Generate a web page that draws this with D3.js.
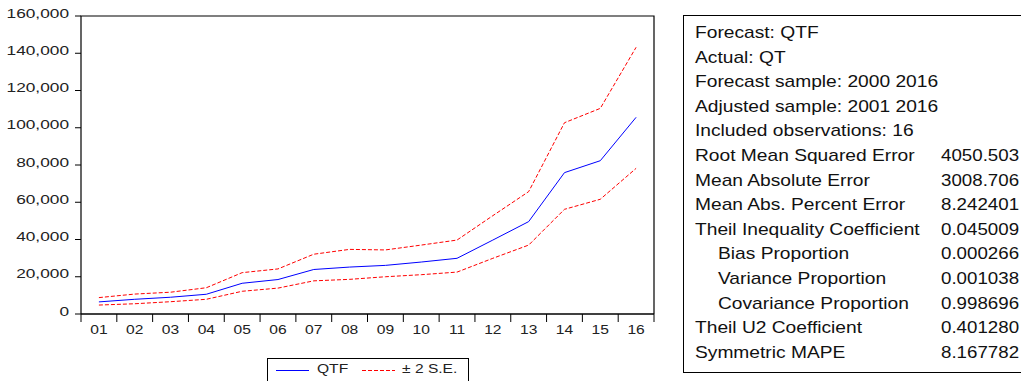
<!DOCTYPE html>
<html>
<head>
<meta charset="utf-8">
<script src="https://cdn.jsdelivr.net/npm/d3@7"></script>
<style>
    body { margin: 0; background: #fff; }
    svg { display: block; font-family: "Liberation Sans", Arial, sans-serif; }
</style>
</head>
<body>
<div id="plot"></div>
<script>
//Categories (years 2001-2016 shown as two digits)
const years = ["01", "02", "03", "04", "05", "06", "07", "08", "09", "10", "11", "12", "13", "14", "15", "16"];
//Forecast QTF and the +/- 2 S.E. band
const qtf = [6500, 7900, 9000, 10600, 16500, 18500, 23900, 25200, 26100, 27900, 29900, 39700, 49600, 75900, 82300, 105600];
const upper = [8800, 10700, 11700, 14100, 22200, 24200, 32100, 34700, 34400, 37000, 39700, 52800, 65700, 102700, 110400, 143200];
const lower = [4800, 5500, 6600, 7900, 12200, 13900, 17800, 18600, 20000, 21100, 22500, 29900, 37000, 56200, 61600, 78200];
//Y tick values
const yTicks = [0, 20000, 40000, 60000, 80000, 100000, 120000, 140000, 160000];
//Forecast statistics table
const statLabels = ["Forecast: QTF", "Actual: QT", "Forecast sample: 2000 2016", "Adjusted sample: 2001 2016",
    "Included observations: 16", "Root Mean Squared Error", "Mean Absolute Error", "Mean Abs. Percent Error",
    "Theil Inequality Coefficient", "Bias Proportion", "Variance Proportion", "Covariance Proportion",
    "Theil U2 Coefficient", "Symmetric MAPE"];
const statValues = ["", "", "", "", "", "4050.503", "3008.706", "8.242401",
    "0.045009", "0.000266", "0.001038", "0.998696", "0.401280", "8.167782"];
const statIndent = [0, 0, 0, 0, 0, 0, 0, 0, 0, 1, 1, 1, 0, 0];

const w = 1021;
const h = 381;
const svg = d3.select("#plot").append("svg").attr("width", w).attr("height", h);

//Plot area
const pLeft = 81, pRight = 654, pTop = 16, pBottom = 314;
const x = d3.scaleBand().domain(years).range([pLeft, pRight]);
const y = d3.scaleLinear().domain([0, 160000]).range([pBottom, pTop]);
//Text is stretched horizontally in the original
const axisStretch = 1.2;
const yLabelStretch = 1.33;

//Frame
svg.append("path")
    .attr("d", `M${pLeft},${pBottom}V${pTop}H${pRight}V${pBottom}`)
    .attr("fill", "none")
    .attr("stroke", "#000")
    .attr("stroke-width", 1.2);

//Y axis ticks and labels
svg.append("g").selectAll("line")
    .data(yTicks)
    .join("line")
    .attr("x1", pLeft - 6).attr("x2", pLeft)
    .attr("y1", d => y(d)).attr("y2", d => y(d))
    .attr("stroke", "#000");
svg.append("g").selectAll("text")
    .data(yTicks)
    .join("text")
    .attr("transform", d => `translate(69,${y(d) + 1.5}) scale(${yLabelStretch},1)`)
    .attr("text-anchor", "end")
    .attr("font-size", 13)
    .attr("fill", "#222")
    .text(d => d3.format(",")(d));

//X axis line, ticks at band edges, labels at centers
svg.append("line")
    .attr("x1", pLeft).attr("x2", pRight)
    .attr("y1", pBottom).attr("y2", pBottom)
    .attr("stroke", "#000").attr("stroke-width", 1.5);
const edges = years.map(d => x(d)).concat([pRight]);
svg.append("g").selectAll("line")
    .data(edges)
    .join("line")
    .attr("x1", d => d).attr("x2", d => d)
    .attr("y1", pBottom).attr("y2", pBottom + 8)
    .attr("stroke", "#000");
svg.append("g").selectAll("text")
    .data(years)
    .join("text")
    .attr("transform", d => `translate(${x(d) + x.bandwidth() / 2},334) scale(${axisStretch},1)`)
    .attr("text-anchor", "middle")
    .attr("font-size", 13)
    .attr("fill", "#222")
    .text(d => d);

//Lines
const line = d3.line()
    .x((d, i) => x(years[i]) + x.bandwidth() / 2)
    .y(d => y(d));
[upper, lower].forEach(series => {
    svg.append("path")
        .attr("d", line(series))
        .attr("fill", "none")
        .attr("stroke", "#ff0000")
        .attr("stroke-width", 1)
        .attr("stroke-dasharray", "4,2");
});
svg.append("path")
    .attr("d", line(qtf))
    .attr("fill", "none")
    .attr("stroke", "#0000ff")
    .attr("stroke-width", 1);

//Legend
const leg = svg.append("g");
leg.append("rect")
    .attr("x", 267.5).attr("y", 358.5)
    .attr("width", 201).attr("height", 30)
    .attr("fill", "#fff").attr("stroke", "#000");
leg.append("line")
    .attr("x1", 276).attr("x2", 309).attr("y1", 370.5).attr("y2", 370.5)
    .attr("stroke", "#0000ff");
leg.append("text")
    .attr("transform", `translate(317,372.5) scale(${axisStretch},1)`)
    .attr("font-size", 13).attr("fill", "#222")
    .text("QTF");
leg.append("line")
    .attr("x1", 362).attr("x2", 395).attr("y1", 370.5).attr("y2", 370.5)
    .attr("stroke", "#ff0000").attr("stroke-dasharray", "4,2");
leg.append("text")
    .attr("transform", `translate(402,372.5) scale(${axisStretch},1)`)
    .attr("font-size", 13).attr("fill", "#222")
    .text("\u00b1 2 S.E.");

//Statistics box
const boxStretch = 1.2;
const stats = svg.append("g");
stats.append("rect")
    .attr("x", 683.5).attr("y", 15.5)
    .attr("width", 360).attr("height", 357)
    .attr("fill", "#fff").attr("stroke", "#000");
const rowY = d3.scaleLinear().domain([0, 1]).range([38, 62.6]);
stats.selectAll("text.label")
    .data(statLabels)
    .join("text")
    .attr("class", "label")
    .attr("transform", (d, i) => `translate(${statIndent[i] ? 718 : 695},${rowY(i)}) scale(${boxStretch},1)`)
    .attr("font-size", 16)
    .attr("fill", "#111")
    .text(d => d);
stats.selectAll("text.value")
    .data(statValues)
    .join("text")
    .attr("class", "value")
    .attr("transform", (d, i) => `translate(941,${rowY(i)}) scale(1.17,1)`)
    .attr("font-size", 16)
    .attr("fill", "#111")
    .text(d => d);
</script>
</body>
</html>
